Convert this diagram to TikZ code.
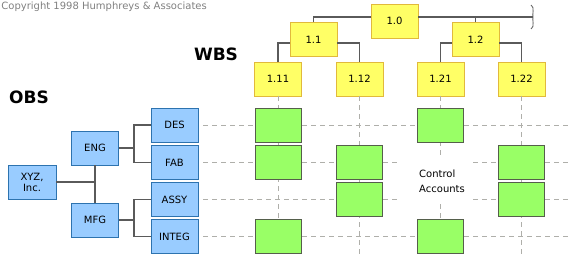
\documentclass[tikz,border=0pt]{standalone}
\usepackage{fontspec}
\setmainfont{DejaVu Sans}
\usetikzlibrary{calc}
\definecolor{WbsYellow}{RGB}{255,255,102}
\definecolor{WbsEdge}{RGB}{225,185,60}
\definecolor{ObsBlue}{RGB}{153,204,255}
\definecolor{ObsEdge}{RGB}{45,115,175}
\definecolor{CaGreen}{RGB}{153,255,102}
\definecolor{CaEdge}{RGB}{85,95,75}
\definecolor{LinkGray}{RGB}{90,90,90}
\definecolor{GridGray}{RGB}{175,175,170}

\begin{document}
\begin{tikzpicture}[x=1pt,y=-1pt,
    wbsbox/.style={draw=WbsEdge,fill=WbsYellow,line width=0.8pt,minimum width=47pt,minimum height=34pt,inner sep=0pt,font=\fontsize{10}{12}\selectfont},
    obsbox/.style={draw=ObsEdge,fill=ObsBlue,line width=0.8pt,minimum width=47pt,minimum height=34pt,inner sep=0pt,align=center,font=\fontsize{10}{11}\selectfont},
    cabox/.style={draw=CaEdge,fill=CaGreen,line width=0.8pt,minimum width=46pt,minimum height=34pt,inner sep=0pt},
    link/.style={draw=LinkGray,line width=1.2pt},
    gridline/.style={GridGray,line width=1pt,dash pattern=on 5pt off 4pt}]
  \useasboundingbox (0,0) rectangle (568,260);
  % titles
  \node[anchor=east,inner sep=0pt,text=gray,font=\fontsize{10}{12}\selectfont] (copy) at (207,7) {Copyright 1998 Humphreys \& Associates};
  \node[font=\fontsize{17}{20}\bfseries] (wbs) at (216,54) {WBS};
  \node[font=\fontsize{17}{20}\bfseries] (obs) at (29,97) {OBS};
  % WBS tree
  \node[wbsbox] (w10) at (394.5,21) {1.0};
  \node[wbsbox] (w11) at (313.5,39.5) {1.1};
  \node[wbsbox] (w12) at (475.5,39.5) {1.2};
  \node[wbsbox] (w111) at (278,79) {1.11};
  \node[wbsbox] (w112) at (359.5,79) {1.12};
  \node[wbsbox] (w121) at (440.5,79) {1.21};
  \node[wbsbox] (w122) at (521.5,79) {1.22};
  \coordinate (brk) at (533,17);
  \draw[link] ([yshift=4pt]w10.west) -| (w11.north);
  \draw[link] ([yshift=4pt]w10.east) -- (brk);
  \draw[link] (w12.north) |- ([yshift=4pt]w10.east);
  \draw[LinkGray,line width=0.8pt] ($(brk)+(-2,-12)$) .. controls ($(brk)+(2,-10)$) and ($(brk)+(-1,-2)$) .. (brk)
    .. controls ($(brk)+(-1,2)$) and ($(brk)+(2,10)$) .. ($(brk)+(-2,12)$);
  \draw[link] ([yshift=-3.5pt]w11.west) -| (w111.north);
  \draw[link] ([yshift=-3.5pt]w11.east) -| (w112.north);
  \draw[link] ([yshift=-3.5pt]w12.west) -| (w121.north);
  \draw[link] ([yshift=-3.5pt]w12.east) -| (w122.north);
  % OBS tree
  \node[obsbox,minimum width=48pt] (xyz) at (32,182) {XYZ,\\Inc.};
  \node[obsbox] (eng) at (95,148) {ENG};
  \node[obsbox] (mfg) at (95,220) {MFG};
  \node[obsbox] (des) at (174.5,125) {DES};
  \node[obsbox] (fab) at (174.5,162.5) {FAB};
  \node[obsbox] (assy) at (174.5,199.5) {ASSY};
  \node[obsbox] (integ) at (174.5,236.5) {INTEG};
  \coordinate (j0) at (eng.south |- xyz.east);
  \coordinate (j1) at ($(eng.east)+(15,0)$);
  \coordinate (j2) at ($(mfg.east)+(15,0)$);
  \draw[link] (eng) -- (mfg);
  \draw[link] (xyz) -- (j0);
  \draw[link] (eng) -- (j1);
  \draw[link] (des.west) -| (j1) |- (fab.west);
  \draw[link] (mfg) -- (j2);
  \draw[link] (assy.west) -| (j2) |- (integ.west);
  % grid
  \coordinate (bot) at (0,255);
  \coordinate (rgt) at (568,0);
  \foreach \w in {w111,w112,w121,w122}
    \draw[gridline] (\w.south) -- (\w.south |- bot);
  \foreach \o in {des,fab,assy,integ}
    \draw[gridline] ([xshift=5pt]\o.east) -- (\o.east -| rgt);
  \fill[white] (400,158) rectangle (472,202);
  % control accounts
  \node[cabox] (ca1) at (w111 |- des) {};
  \node[cabox] (ca2) at (w121 |- des) {};
  \node[cabox] (ca3) at (w111 |- fab) {};
  \node[cabox] (ca4) at (w112 |- fab) {};
  \node[cabox] (ca5) at (w122 |- fab) {};
  \node[cabox] (ca6) at (w112 |- assy) {};
  \node[cabox] (ca7) at (w122 |- assy) {};
  \node[cabox] (ca8) at (w111 |- integ) {};
  \node[cabox] (ca9) at (w121 |- integ) {};
  \node[align=left,inner sep=1pt,font=\fontsize{10}{15}\selectfont] (ctl) at (442,181) {Control\\Accounts};
\end{tikzpicture}
\end{document}
